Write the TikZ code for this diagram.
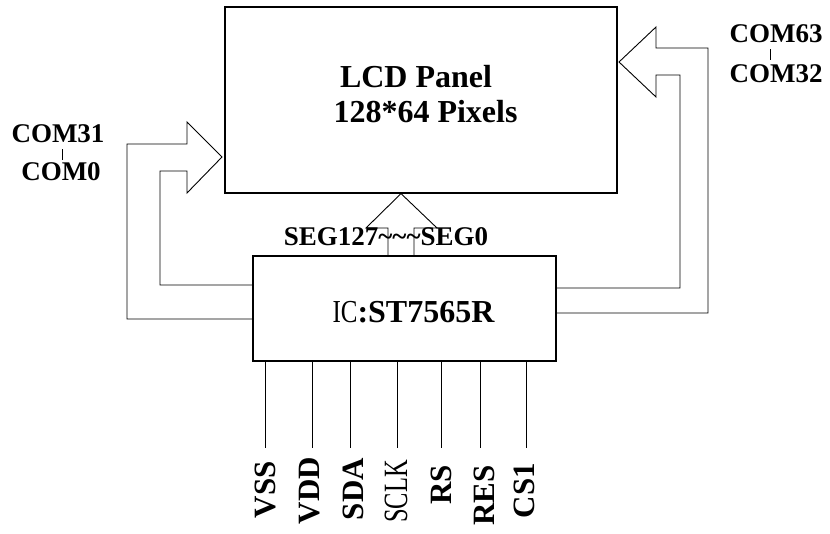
\documentclass[tikz,border=0pt]{standalone}
\usepackage{fontspec}
\setmainfont{Liberation Serif}
\usepackage{graphicx}
\begin{document}
\begin{tikzpicture}[x=1pt,y=-1pt,
  box/.style={draw, line width=1.2pt, inner sep=0pt},
  bus/.style={draw, line width=0.9pt, line join=miter},
  wire/.style={draw, line width=0.9pt},
  title/.style={inner sep=0pt, anchor=base, font=\bfseries\fontsize{32}{36}\selectfont},
  com/.style={inner sep=0pt, anchor=base, font=\bfseries\fontsize{27}{30}\selectfont},
  seg/.style={inner sep=0pt, anchor=base, font=\bfseries\fontsize{27}{30}\selectfont},
  pin/.style={inner sep=0pt, rotate=90, anchor=east, font=\bfseries\fontsize{31}{34}\selectfont},
  thinfont/.style={font=\mdseries\fontsize{34}{36}\selectfont}]
\useasboundingbox (0,0) rectangle (830,534);

% boxes
\node[box, minimum width=392pt, minimum height=186pt] (lcd) at (421,100) {};
\node[box, minimum width=303pt, minimum height=105pt] (ic) at (404.5,308.5) {};

% box texts
\node[title] (lcdA) at (416,88) {LCD Panel};
\node[title] (lcdB) at (425.5,123) {128*64 Pixels};
\node[title] (icname) at (413.5,323) {{\mdseries\scalebox{0.78}[1]{IC}}:ST7565R};

% left COM bus arrow
\draw[bus] (ic.west |- 0,319) -- (127,319) -- (127,144) -- (187,144) -- (187,122)
  -- (222,157) -- (187,193) -- (187,171) -- (160,171) -- (160,285) -- (ic.west |- 0,285);

% right COM bus arrow
\draw[bus] (ic.east |- 0,313) -- (708,313) -- (708,48) -- (656,48) -- (656,27)
  -- (619,62) -- (656,97) -- (656,75) -- (680,75) -- (680,288) -- (ic.east |- 0,288);

% SEG bus arrow
\draw[bus] (ic.north -| 388,0) -- (388,228) -- (366,228) -- (lcd.south -| 401,0)
  -- (437,228) -- (414,228) -- (ic.north -| 414,0);

% SEG label
\node[seg] (seglbl) at (386,246) {SEG127\textasciitilde\textasciitilde\textasciitilde SEG0};

% COM labels
\node[com] (com31) at (58,143) {COM31};
\node[com] (com0) at (61,181) {COM0};
\draw[wire, line width=0.7pt, shorten <=6pt, shorten >=3pt] (com31.south -| 62,0) -- (com0.north -| 62,0);

\node[com] (com63) at (776,43) {COM63};
\node[com] (com32) at (776,83) {COM32};
\draw[wire, line width=0.7pt, shorten <=6pt, shorten >=5pt] (com63.south -| 770,0) -- (com32.north -| 770,0);

% pins
\coordinate (p1) at (265,448);
\coordinate (p2) at (312,448);
\coordinate (p3) at (350,448);
\coordinate (p4) at (397,448);
\coordinate (p5) at (441,448);
\coordinate (p6) at (480,448);
\coordinate (p7) at (526,448);
\foreach \i in {1,...,7} {
  \draw[wire] (ic.south -| p\i) -- (p\i);
}
\node[pin] (vss) at (265,461) {VSS};
\node[pin] (vdd) at (310,457) {VDD};
\node[pin] (sda) at (353,458) {SDA};
\node[pin, thinfont] (sclk) at (396,460) {\scalebox{0.72}[1]{SCLK}};
\node[pin] (rs) at (441,465) {RS};
\node[pin] (res) at (484,465) {RES};
\node[pin] (cs1) at (524,463) {CS1};
\end{tikzpicture}
\end{document}
